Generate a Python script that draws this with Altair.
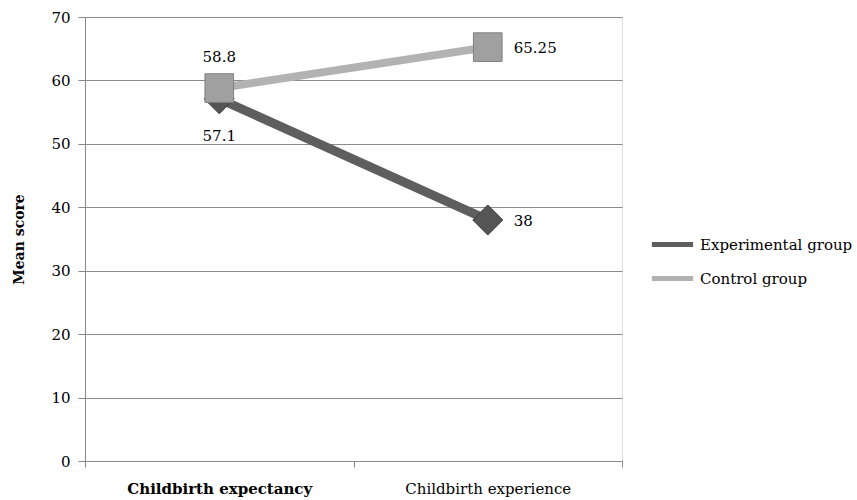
import altair as alt
import pandas as pd

categories = ["Childbirth expectancy", "Childbirth experience"]
groups = ["Experimental group", "Control group"]
experimental = [57.1, 38]
control = [58.8, 65.25]
label_text_exp = ["57.1", "38"]
label_text_ctl = ["58.8", "65.25"]

rows = []
for i, c in enumerate(categories):
    rows.append({"cat": c, "group": groups[0], "value": experimental[i], "label": label_text_exp[i], "idx": i})
    rows.append({"cat": c, "group": groups[1], "value": control[i], "label": label_text_ctl[i], "idx": i})
df = pd.DataFrame(rows)

FONT = "DejaVu Serif"
line_colors = ["#5e5e5e", "#b2b2b2"]
marker_colors = ["#555555", "#a0a0a0"]

x_enc = alt.X(
    "cat:N",
    sort=categories,
    scale=alt.Scale(domain=categories, paddingInner=0, paddingOuter=0),
    axis=alt.Axis(
        title=None,
        labelAngle=0,
        labelFont=FONT,
        labelFontSize=15,
        labelColor="black",
        labelPadding=14,
        labelLimit=400,
        labelFontWeight=alt.condition("datum.value == 'Childbirth expectancy'", alt.value("bold"), alt.value("normal")),
        domainColor="#888888",
        tickColor="#888888",
        tickBand="extent",
        tickSize=6,
        grid=False,
    ),
)
y_enc = alt.Y(
    "value:Q",
    scale=alt.Scale(domain=[0, 70], nice=False),
    axis=alt.Axis(
        title="Mean score",
        titleFont=FONT,
        titleFontSize=14,
        titleFontWeight="bold",
        titleColor="black",
        titlePadding=24,
        values=list(range(0, 71, 10)),
        labelFont=FONT,
        labelFontSize=15,
        labelColor="black",
        labelPadding=8,
        domainColor="#888888",
        tickColor="#888888",
        tickSize=7,
        gridColor="#8a8a8a",
        gridWidth=1,
    ),
)

color_scale = alt.Scale(domain=groups, range=line_colors)
legend = alt.Legend(title=None, orient="none", legendX=564, legendY=204,
                    labelFont=FONT, labelFontSize=15, labelColor="black", labelLimit=400,
                    symbolType="stroke", symbolStrokeWidth=5, symbolSize=1700,
                    rowPadding=0, labelOffset=4)

base = alt.Chart(df)

exp_line = base.transform_filter(alt.datum.group == groups[0]).mark_line(strokeWidth=9).encode(
    x=x_enc, y=y_enc,
    color=alt.Color("group:N", scale=color_scale, sort=groups, legend=legend),
    order="idx:Q",
)
ctl_line = base.transform_filter(alt.datum.group == groups[1]).mark_line(strokeWidth=8).encode(
    x=x_enc, y=y_enc,
    color=alt.Color("group:N", scale=color_scale, sort=groups, legend=legend),
    order="idx:Q",
)

exp_pts = base.transform_filter(alt.datum.group == groups[0]).mark_point(
    shape="diamond", filled=True, size=900, color=marker_colors[0], opacity=1,
    stroke="#3a3a3a", strokeWidth=1,
).encode(x=x_enc, y=y_enc)
ctl_pts = base.transform_filter(alt.datum.group == groups[1]).mark_point(
    shape="square", filled=True, size=820, color=marker_colors[1], opacity=1,
    stroke="#808080", strokeWidth=1,
).encode(x=x_enc, y=y_enc)

txt_props = dict(font=FONT, fontSize=15, color="black")
lab_ctl_first = base.transform_filter(
    (alt.datum.group == groups[1]) & (alt.datum.idx == 0)
).mark_text(dy=-31, **txt_props).encode(x=x_enc, y=y_enc, text="label:N")
lab_exp_first = base.transform_filter(
    (alt.datum.group == groups[0]) & (alt.datum.idx == 0)
).mark_text(dy=37, **txt_props).encode(x=x_enc, y=y_enc, text="label:N")
lab_second = base.transform_filter(alt.datum.idx == 1).mark_text(
    align="left", dx=26, dy=1, **txt_props
).encode(x=x_enc, y=y_enc, text="label:N")

chart = alt.layer(
    exp_line, ctl_line, exp_pts, ctl_pts, lab_ctl_first, lab_exp_first, lab_second
).properties(
    width=537, height=444,
    autosize=alt.AutoSizeParams(type="none"),
    padding={"left": 85, "top": 17, "right": 235, "bottom": 39},
).configure_view(stroke=None).configure_legend(
    labelFont=FONT, labelFontSize=15, labelColor="black"
).configure(background="white", font=FONT)

chart.save("out.html", embed_options={"renderer": "svg", "actions": False})
